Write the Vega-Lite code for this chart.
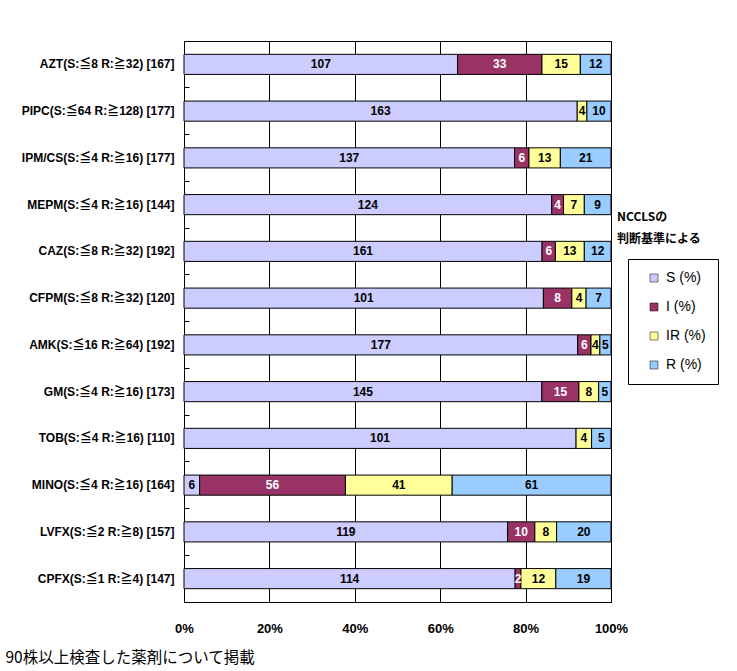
{
  "$schema": "https://vega.github.io/schema/vega-lite/v6.json",
  "width": 427,
  "height": 561,
  "autosize": {"type": "none"},
  "padding": {"left": 184, "top": 41, "right": 126, "bottom": 69},
  "background": "white",
  "config": {
    "view": {"stroke": "black", "strokeWidth": 1},
    "axis": {"labelColor": "black", "titleColor": "black"}
  },
  "title": {
    "text": ["NCCLSの", "判断基準による"],
    "orient": "top",
    "anchor": "end",
    "frame": "group",
    "align": "left",
    "baseline": "top",
    "dx": 6,
    "dy": 209,
    "font": "Noto Sans CJK JP",
    "fontSize": 12,
    "fontWeight": "bold",
    "lineHeight": 22,
    "color": "black"
  },
  "data": {
    "values": [
      {"drug": "AZT(S:≦8 R:≧32) [167]", "cat": "S (%)", "ord": 1, "v": 107},
      {"drug": "AZT(S:≦8 R:≧32) [167]", "cat": "I (%)", "ord": 2, "v": 33},
      {"drug": "AZT(S:≦8 R:≧32) [167]", "cat": "IR (%)", "ord": 3, "v": 15},
      {"drug": "AZT(S:≦8 R:≧32) [167]", "cat": "R (%)", "ord": 4, "v": 12},
      {"drug": "PIPC(S:≦64 R:≧128) [177]", "cat": "S (%)", "ord": 1, "v": 163},
      {"drug": "PIPC(S:≦64 R:≧128) [177]", "cat": "IR (%)", "ord": 3, "v": 4},
      {"drug": "PIPC(S:≦64 R:≧128) [177]", "cat": "R (%)", "ord": 4, "v": 10},
      {"drug": "IPM/CS(S:≦4 R:≧16) [177]", "cat": "S (%)", "ord": 1, "v": 137},
      {"drug": "IPM/CS(S:≦4 R:≧16) [177]", "cat": "I (%)", "ord": 2, "v": 6},
      {"drug": "IPM/CS(S:≦4 R:≧16) [177]", "cat": "IR (%)", "ord": 3, "v": 13},
      {"drug": "IPM/CS(S:≦4 R:≧16) [177]", "cat": "R (%)", "ord": 4, "v": 21},
      {"drug": "MEPM(S:≦4 R:≧16) [144]", "cat": "S (%)", "ord": 1, "v": 124},
      {"drug": "MEPM(S:≦4 R:≧16) [144]", "cat": "I (%)", "ord": 2, "v": 4},
      {"drug": "MEPM(S:≦4 R:≧16) [144]", "cat": "IR (%)", "ord": 3, "v": 7},
      {"drug": "MEPM(S:≦4 R:≧16) [144]", "cat": "R (%)", "ord": 4, "v": 9},
      {"drug": "CAZ(S:≦8 R:≧32) [192]", "cat": "S (%)", "ord": 1, "v": 161},
      {"drug": "CAZ(S:≦8 R:≧32) [192]", "cat": "I (%)", "ord": 2, "v": 6},
      {"drug": "CAZ(S:≦8 R:≧32) [192]", "cat": "IR (%)", "ord": 3, "v": 13},
      {"drug": "CAZ(S:≦8 R:≧32) [192]", "cat": "R (%)", "ord": 4, "v": 12},
      {"drug": "CFPM(S:≦8 R:≧32) [120]", "cat": "S (%)", "ord": 1, "v": 101},
      {"drug": "CFPM(S:≦8 R:≧32) [120]", "cat": "I (%)", "ord": 2, "v": 8},
      {"drug": "CFPM(S:≦8 R:≧32) [120]", "cat": "IR (%)", "ord": 3, "v": 4},
      {"drug": "CFPM(S:≦8 R:≧32) [120]", "cat": "R (%)", "ord": 4, "v": 7},
      {"drug": "AMK(S:≦16 R:≧64) [192]", "cat": "S (%)", "ord": 1, "v": 177},
      {"drug": "AMK(S:≦16 R:≧64) [192]", "cat": "I (%)", "ord": 2, "v": 6},
      {"drug": "AMK(S:≦16 R:≧64) [192]", "cat": "IR (%)", "ord": 3, "v": 4},
      {"drug": "AMK(S:≦16 R:≧64) [192]", "cat": "R (%)", "ord": 4, "v": 5},
      {"drug": "GM(S:≦4 R:≧16) [173]", "cat": "S (%)", "ord": 1, "v": 145},
      {"drug": "GM(S:≦4 R:≧16) [173]", "cat": "I (%)", "ord": 2, "v": 15},
      {"drug": "GM(S:≦4 R:≧16) [173]", "cat": "IR (%)", "ord": 3, "v": 8},
      {"drug": "GM(S:≦4 R:≧16) [173]", "cat": "R (%)", "ord": 4, "v": 5},
      {"drug": "TOB(S:≦4 R:≧16) [110]", "cat": "S (%)", "ord": 1, "v": 101},
      {"drug": "TOB(S:≦4 R:≧16) [110]", "cat": "IR (%)", "ord": 3, "v": 4},
      {"drug": "TOB(S:≦4 R:≧16) [110]", "cat": "R (%)", "ord": 4, "v": 5},
      {"drug": "MINO(S:≦4 R:≧16) [164]", "cat": "S (%)", "ord": 1, "v": 6},
      {"drug": "MINO(S:≦4 R:≧16) [164]", "cat": "I (%)", "ord": 2, "v": 56},
      {"drug": "MINO(S:≦4 R:≧16) [164]", "cat": "IR (%)", "ord": 3, "v": 41},
      {"drug": "MINO(S:≦4 R:≧16) [164]", "cat": "R (%)", "ord": 4, "v": 61},
      {"drug": "LVFX(S:≦2 R:≧8) [157]", "cat": "S (%)", "ord": 1, "v": 119},
      {"drug": "LVFX(S:≦2 R:≧8) [157]", "cat": "I (%)", "ord": 2, "v": 10},
      {"drug": "LVFX(S:≦2 R:≧8) [157]", "cat": "IR (%)", "ord": 3, "v": 8},
      {"drug": "LVFX(S:≦2 R:≧8) [157]", "cat": "R (%)", "ord": 4, "v": 20},
      {"drug": "CPFX(S:≦1 R:≧4) [147]", "cat": "S (%)", "ord": 1, "v": 114},
      {"drug": "CPFX(S:≦1 R:≧4) [147]", "cat": "I (%)", "ord": 2, "v": 2},
      {"drug": "CPFX(S:≦1 R:≧4) [147]", "cat": "IR (%)", "ord": 3, "v": 12},
      {"drug": "CPFX(S:≦1 R:≧4) [147]", "cat": "R (%)", "ord": 4, "v": 19}
    ]
  },
  "encoding": {
    "y": {
      "field": "drug",
      "type": "nominal",
      "sort": [
        "AZT(S:≦8 R:≧32) [167]",
        "PIPC(S:≦64 R:≧128) [177]",
        "IPM/CS(S:≦4 R:≧16) [177]",
        "MEPM(S:≦4 R:≧16) [144]",
        "CAZ(S:≦8 R:≧32) [192]",
        "CFPM(S:≦8 R:≧32) [120]",
        "AMK(S:≦16 R:≧64) [192]",
        "GM(S:≦4 R:≧16) [173]",
        "TOB(S:≦4 R:≧16) [110]",
        "MINO(S:≦4 R:≧16) [164]",
        "LVFX(S:≦2 R:≧8) [157]",
        "CPFX(S:≦1 R:≧4) [147]"
      ],
      "scale": {"paddingInner": 0.57, "paddingOuter": 0.285},
      "axis": {
        "title": null,
        "domain": false,
        "offset": -5,
        "ticks": true,
        "bandPosition": 1.663,
        "tickSize": 5,
        "tickColor": "black",
        "tickWidth": 1,
        "labelPadding": 10,
        "labelFont": "Liberation Sans, Noto Sans CJK JP",
        "labelFontSize": 12,
        "labelFontWeight": "bold",
        "labelLimit": 300
      }
    },
    "order": {"field": "ord", "type": "quantitative", "sort": "ascending"}
  },
  "layer": [
    {
      "mark": {"type": "bar", "stroke": "black", "strokeWidth": 1},
      "encoding": {
        "x": {
          "field": "v",
          "type": "quantitative",
          "stack": "normalize",
          "scale": {"domain": [0, 1], "nice": false},
          "axis": {
            "values": [0, 0.2, 0.4, 0.6, 0.8, 1],
            "format": ".0%",
            "grid": true,
            "gridColor": "black",
            "gridOpacity": 1,
            "domain": false,
            "ticks": false,
            "labelFlush": false,
            "labelPadding": 20,
            "labelFont": "Liberation Sans",
            "labelFontSize": 13,
            "labelFontWeight": "bold",
            "title": "90株以上検査した薬剤について掲載",
            "titleX": -179,
            "titleY": 55,
            "titleAlign": "left",
            "titleBaseline": "middle",
            "titleFont": "Noto Sans CJK JP",
            "titleFontSize": 15.5,
            "titleFontWeight": "normal"
          }
        },
        "color": {
          "field": "cat",
          "type": "nominal",
          "scale": {
            "domain": ["S (%)", "I (%)", "IR (%)", "R (%)"],
            "range": ["#CCCCFF", "#993366", "#FFFF99", "#99CCFF"]
          },
          "legend": {
            "title": null,
            "orient": "none",
            "legendX": 444,
            "legendY": 218,
            "strokeColor": "black",
            "padding": 12,
            "symbolType": "square",
            "symbolSize": 64,
            "symbolStrokeColor": "black",
            "symbolStrokeWidth": 0.5,
            "symbolOffset": 7,
            "labelFont": "Liberation Sans",
            "labelFontSize": 14,
            "labelColor": "black",
            "labelOffset": 5,
            "rowPadding": 15
          }
        }
      }
    },
    {
      "mark": {"type": "text", "font": "Liberation Sans", "fontSize": 12, "fontWeight": "bold", "baseline": "middle", "align": "center"},
      "encoding": {
        "x": {"field": "v", "type": "quantitative", "stack": "normalize", "bandPosition": 0.5},
        "detail": {"field": "cat", "type": "nominal"},
        "text": {"field": "v", "type": "quantitative"},
        "color": {"condition": {"test": "datum.cat === 'I (%)'", "value": "white"}, "value": "black"}
      }
    }
  ]
}
